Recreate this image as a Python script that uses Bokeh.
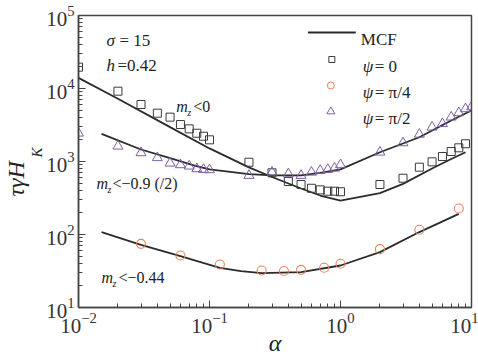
from bokeh.plotting import figure
from bokeh.models import Label, Title
from bokeh.embed import file_html
from bokeh.resources import INLINE

# ---- data ----
alpha_sq = [0.01, 0.02, 0.03, 0.04, 0.05, 0.06, 0.07, 0.08, 0.09, 0.1,
            0.2, 0.3, 0.4, 0.5, 0.6, 0.7, 0.8, 0.9, 1.0,
            2, 3, 4, 5, 6, 7, 8, 9]
tau_sq = [19600, 9190, 6040, 4590, 4050, 3210, 2800, 2440, 2220, 1980,
          977, 700, 532, 484, 430, 409, 392, 392, 385,
          484, 590, 836, 990, 1170, 1370, 1540, 1750]

alpha_ci = [0.03, 0.06, 0.12, 0.25, 0.37, 0.5, 0.75, 1.0, 2.0, 4.0, 8.0]
tau_ci = [74.5, 51.5, 38.8, 32.1, 31.6, 32.8, 35, 39.7, 63, 116, 227]

alpha_tr = [0.01, 0.02, 0.03, 0.04, 0.05, 0.06, 0.07, 0.08, 0.09, 0.1,
            0.2, 0.3, 0.4, 0.5, 0.6, 0.7, 0.8, 0.9, 1.0,
            2, 3, 4, 5, 6, 7, 8, 9, 10]
tau_tr = [2440, 1620, 1315, 1125, 948, 901, 863, 794, 777, 769,
          643, 713, 676, 643, 713, 753, 777, 809, 901,
          1340, 1800, 2360, 2950, 3300, 4050, 4650, 5270, 5600]

mcf_a1 = [0.01, 0.02, 0.05, 0.1, 0.2, 0.3, 0.5, 0.7, 1, 2, 3, 5, 7, 9]
mcf_t1 = [14000, 7230, 2960, 1510, 830, 614, 427, 342, 292, 368, 494, 801, 1080, 1340]

mcf_a2 = [0.015, 0.03, 0.05, 0.077, 0.1, 0.2, 0.3, 0.5, 0.7, 1, 2, 4, 7, 10]
mcf_t2 = [2390, 1460, 1110, 880, 780, 670, 645, 645, 700, 780, 1340, 2150, 3650, 5000]

mcf_a3 = [0.015, 0.03, 0.06, 0.12, 0.174, 0.25, 0.5, 1, 2, 4, 8]
mcf_t3 = [108, 72, 50.5, 35, 31.4, 29.5, 30.5, 37.6, 57.3, 108, 192]

# ---- styling ----
SERIF = "Liberation Serif"
ORANGE = "#E8825A"
PURPLE = "#7E60A2"

L, R, T, B = 77, 471, 15, 307  # frame in px
W, H = 478, 358


def dx(px):
    return 10 ** ((px - L) / (R - L) * 3 - 2)


def dy(py):
    return 10 ** (5 - (py - T) / (B - T) * 4)


p = figure(width=W, height=H, x_axis_type="log", y_axis_type="log",
           x_range=(0.01, 10), y_range=(10, 1e5),
           output_backend="svg", toolbar_location=None,
           min_border_left=L, min_border_right=W - R,
           min_border_top=T, min_border_bottom=H - B)
p.xgrid.visible = False
p.ygrid.visible = False
p.outline_line_color = "#444444"
p.outline_line_width = 1.5
p.background_fill_color = "white"
p.border_fill_color = "white"

for ax in (p.xaxis[0], p.yaxis[0]):
    ax.axis_line_color = "#444444"
    ax.axis_line_width = 1.5
    ax.major_tick_line_color = "#444444"
    ax.minor_tick_line_color = "#444444"
    ax.major_tick_in = 7
    ax.major_tick_out = 0
    ax.minor_tick_in = 4
    ax.minor_tick_out = 0
    ax.major_label_text_font = SERIF
    ax.major_label_text_font_size = "21px"
    ax.major_label_text_color = "#333333"
    ax.axis_label_text_font = SERIF
    ax.axis_label_text_font_style = "italic"
    ax.axis_label_text_font_size = "24px"
    ax.axis_label_text_color = "#222222"
p.xaxis.major_label_standoff = 5
p.yaxis.major_label_standoff = 4
p.xaxis.axis_label = "α"
p.xaxis.axis_label_standoff = -6

# y-axis title: "τγH" with subscript "K", as two side titles
p.add_layout(Title(text="K", align="left", offset=150, standoff=-3,
                   text_font=SERIF, text_font_size="15px", text_font_style="italic",
                   text_color="#222222", vertical_align="bottom"), "left")
p.add_layout(Title(text="τγH", align="left", offset=111, standoff=0,
                   text_font=SERIF, text_font_size="24px", text_font_style="italic",
                   text_color="#222222"), "left")

# ---- MCF lines ----
for a, t in ((mcf_a1, mcf_t1), (mcf_a2, mcf_t2), (mcf_a3, mcf_t3)):
    p.line(a, t, line_color="#2b2b2b", line_width=1.8)

# ---- markers ----
p.scatter(alpha_sq, tau_sq, marker="square", size=8, fill_color=None,
          line_color="#3a3a3a", line_width=1)
p.scatter(alpha_ci, tau_ci, marker="circle", size=9, fill_color=None,
          line_color=ORANGE, line_width=1.1)
p.scatter(alpha_tr, tau_tr, marker="triangle", size=10, fill_color=None,
          line_color=PURPLE, line_width=1)


def lab(px, py, text, size=17, style="normal", align="left", color="#222222"):
    p.add_layout(Label(x=dx(px), y=dy(py), text=text, text_font=SERIF,
                       text_font_size=f"{size}px", text_font_style=style,
                       text_align=align, text_baseline="alphabetic",
                       text_color=color))


# annotations
lab(105, 39.5, "σ", style="italic")
lab(118, 39.5, "= 15")
lab(105, 65, "h", style="italic")
lab(116, 65, " =0.42")

lab(175, 106, "m", size=16, style="italic")
lab(186, 112, "z", size=10, style="italic")
lab(192, 106, "<0", size=16)

lab(95, 183, "m", size=16, style="italic")
lab(106, 189, "z", size=10, style="italic")
lab(111, 183, "<−0.9 (/2)", size=16)

lab(100, 277, "m", size=16, style="italic")
lab(111, 283, "z", size=10, style="italic")
lab(117, 277, "<−0.44", size=16)

# legend (manual)
p.line([dx(307), dx(355)], [dy(32), dy(32)], line_color="#2b2b2b", line_width=1.8)
lab(360, 39, "MCF")
p.scatter([dx(331)], [dy(59)], marker="square", size=6, fill_color=None, line_color="#3a3a3a")
p.scatter([dx(330)], [dy(85)], marker="circle", size=7, fill_color=None, line_color=ORANGE)
p.scatter([dx(330)], [dy(111)], marker="triangle", size=8, fill_color=None, line_color=PURPLE)
for yy, txt in ((66, "= 0"), (92, "= π/4"), (118, "= π/2")):
    lab(362, yy, "ψ", style="italic")
    lab(374, yy, txt)

open("out.html", "w").write(file_html(p, INLINE))
